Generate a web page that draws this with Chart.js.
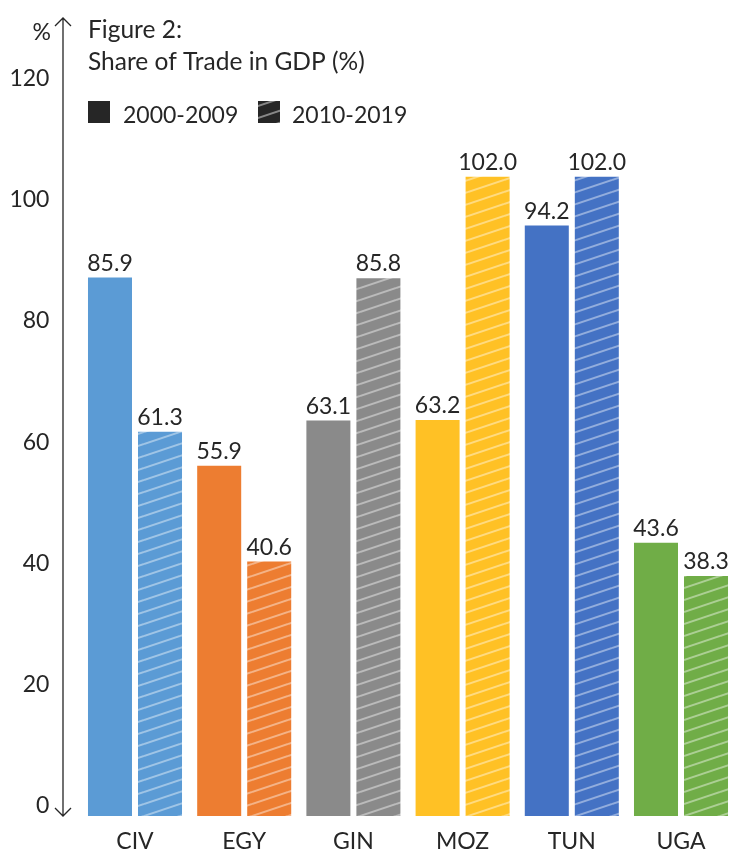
<!DOCTYPE html>
<html>
<head>
<meta charset="utf-8">
<script src="https://cdn.jsdelivr.net/npm/chart.js@4"></script>
<style>
  html, body { margin: 0; padding: 0; background: #fff; overflow: hidden; }
  #wrap { width: 740px; height: 855px; }
</style>
</head>
<body>
<div id="wrap"><canvas id="barChart"></canvas></div>
<script>
const countries = ["CIV", "EGY", "GIN", "MOZ", "TUN", "UGA"];
const period1 = [85.9, 55.9, 63.1, 63.2, 94.2, 43.6];   // 2000-2009
const period2 = [61.3, 40.6, 85.8, 102.0, 102.0, 38.3]; // 2010-2019
const seriesNames = ["2000-2009", "2010-2019"];
const yTickValues = [0, 20, 40, 60, 80, 100, 120];
const barColors = ["#5B9BD5", "#ED7D31", "#8A8A8A", "#FFC125", "#4472C4", "#70AD47"];

const FONT = "Lato, 'Open Sans', sans-serif";
const TEXT = "#262626";

function hatch(color, lineColor) {
    const c = document.createElement("canvas");
    c.width = 36; c.height = 12;
    const g = c.getContext("2d");
    g.fillStyle = color;
    g.fillRect(0, 0, 36, 12);
    g.strokeStyle = lineColor;
    g.lineWidth = 2;
    for (let k = -1; k <= 1; k++) {
        g.beginPath();
        g.moveTo(0, 12 + k * 12);
        g.lineTo(36, k * 12);
        g.stroke();
    }
    return g.createPattern(c, "repeat");
}

const hatched = barColors.map(c => hatch(c, "rgba(255,255,255,0.42)"));

const overlay = {
    id: "overlay",
    afterDraw(chart) {
        const ctx = chart.ctx;
        const area = chart.chartArea;
        const ax = 63;
        ctx.save();
        // double arrow axis
        ctx.strokeStyle = TEXT;
        ctx.lineWidth = 1.3;
        ctx.beginPath();
        ctx.moveTo(ax, 18); ctx.lineTo(ax, area.bottom);
        ctx.moveTo(ax - 8, 26); ctx.lineTo(ax, 18); ctx.lineTo(ax + 8, 26);
        ctx.moveTo(ax - 8, area.bottom - 8); ctx.lineTo(ax, area.bottom); ctx.lineTo(ax + 8, area.bottom - 8);
        ctx.stroke();

        ctx.fillStyle = TEXT;
        ctx.textBaseline = "alphabetic";
        ctx.font = "23px " + FONT;
        ctx.textAlign = "right";
        ctx.fillText("%", 51, 40);
        ctx.textAlign = "left";
        ctx.font = "24.5px " + FONT;
        ctx.fillText("Figure 2:", 88, 38);
        ctx.fillText("Share of Trade in GDP (%)", 88, 70);

        // legend
        ctx.font = "23px " + FONT;
        ctx.fillStyle = "#262626";
        ctx.fillRect(88, 101, 22, 22);
        ctx.fillStyle = TEXT;
        ctx.fillText(seriesNames[0], 123, 123);
        ctx.fillStyle = hatch("#262626", "rgba(255,255,255,0.45)");
        ctx.fillRect(258, 101, 22, 22);
        ctx.fillStyle = TEXT;
        ctx.fillText(seriesNames[1], 292, 123);

        // value labels
        ctx.textAlign = "center";
        chart.data.datasets.forEach((ds, i) => {
            chart.getDatasetMeta(i).data.forEach((bar, j) => {
                ctx.fillText(ds.data[j].toFixed(1), bar.x, bar.y - 7);
            });
        });
        ctx.restore();
    }
};

new Chart(document.getElementById("barChart").getContext("2d"), {
    type: "bar",
    data: {
        labels: countries,
        datasets: [
            { label: seriesNames[0], data: period1, backgroundColor: barColors, yAxisID: "y" },
            { label: seriesNames[1], data: period2, backgroundColor: hatched, yAxisID: "y" }
        ]
    },
    options: {
        responsive: true,
        maintainAspectRatio: false,
        devicePixelRatio: 1,
        animation: false,
        categoryPercentage: 0.916,
        barPercentage: 0.88,
        layout: { padding: { top: 20, right: 4.4, left: 0, bottom: 0 } },
        plugins: { legend: { display: false }, tooltip: { enabled: false } },
        scales: {
            x: {
                grid: { display: false, drawTicks: false },
                border: { display: false },
                ticks: { color: TEXT, font: { family: FONT, size: 23 }, padding: 12 },
                afterFit(scale) {
                    scale.height = 39;
                    scale.paddingLeft = 0;
                    scale.paddingRight = 0;
                }
            },
            y: {
                display: false,
                min: 0,
                max: 127
            },
            yt: {
                position: "left",
                min: -1.65,
                max: 129.6,
                grid: { display: false, drawTicks: false },
                border: { display: false },
                afterBuildTicks(scale) { scale.ticks = yTickValues.map(v => ({ value: v })); },
                ticks: { color: TEXT, font: { family: FONT, size: 23 }, padding: 31 },
                afterFit(scale) {
                    scale.width = 80.4;
                    scale.paddingTop = 0;
                    scale.paddingBottom = 0;
                }
            }
        }
    },
    plugins: [overlay]
});
</script>
</body>
</html>
